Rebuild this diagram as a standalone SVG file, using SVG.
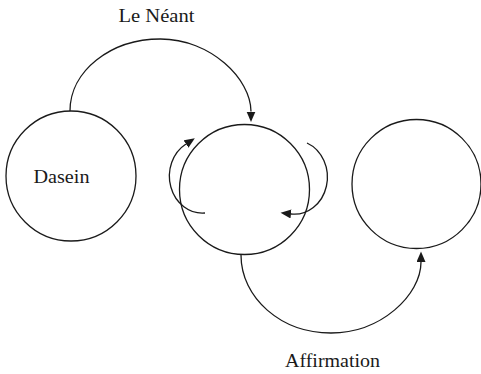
<svg xmlns="http://www.w3.org/2000/svg" width="481" height="374" viewBox="0 0 481 374">
<style>
.node{fill:none;stroke:#1a1a1a;stroke-width:1.3}
.edge{fill:none;stroke:#1a1a1a;stroke-width:1.3;marker-end:url(#ah)}
.lbl{font-family:"Liberation Serif","DejaVu Serif",serif;font-size:18px;fill:#1a1a1a}
</style>
<defs>
<marker id="ah" markerUnits="userSpaceOnUse" markerWidth="12" markerHeight="10" refX="0" refY="4.5" orient="auto">
<path d="M0,0 L10.5,4.5 L0,9 z" fill="#1a1a1a"/>
</marker>
</defs>
<rect width="481" height="374" fill="#fff"/>
<g id="dasein">
<circle class="node" cx="71" cy="176" r="65"/>
<text class="lbl" x="33.5" y="183" textLength="56" lengthAdjust="spacingAndGlyphs">Dasein</text>
</g>
<g id="middle">
<circle class="node" cx="244.5" cy="189.5" r="65"/>
</g>
<g id="right">
<circle class="node" cx="416.5" cy="184" r="64.5"/>
</g>
<g id="connectors">
<path class="edge" d="M70,111 C70,71 110.5,39 160.5,39 C210.5,39 251,79 251,111.5"/>
<text class="lbl" x="118.5" y="21.5" textLength="76" lengthAdjust="spacingAndGlyphs">Le Néant</text>
<path class="edge" d="M241,255 C241,298 281,333 331,333 C381,333 421,295 421,262"/>
<text class="lbl" x="285" y="366.5" textLength="95" lengthAdjust="spacingAndGlyphs">Affirmation</text>
<path class="edge" d="M205,213 A33 37 0 0 1 186,144"/>
<path class="edge" d="M307,143 A33 37 0 0 1 291,214"/>
</g>
</svg>
